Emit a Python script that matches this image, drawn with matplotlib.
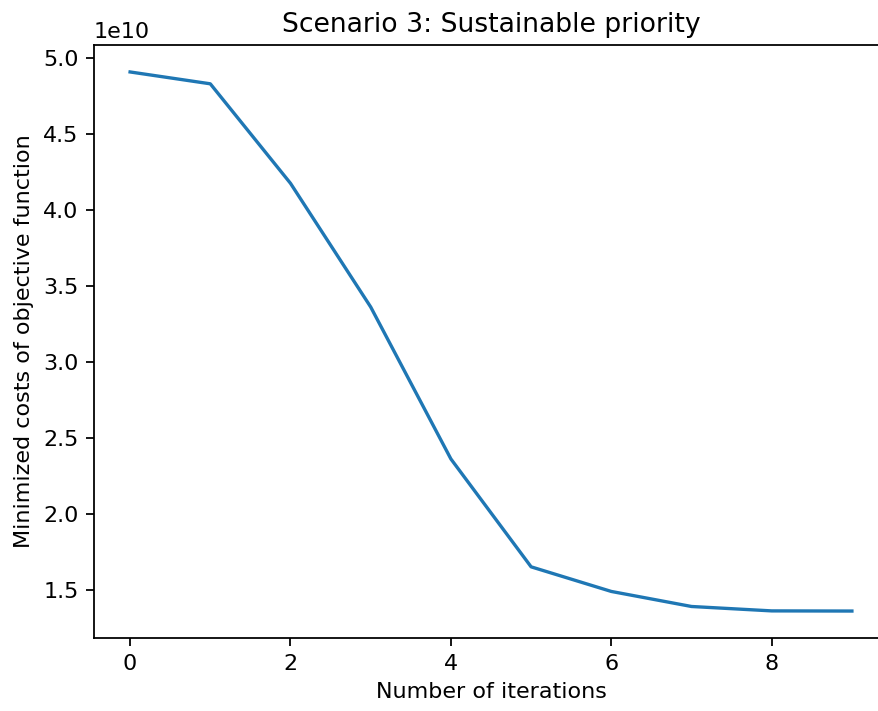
import matplotlib
matplotlib.use("Agg")
import matplotlib.pyplot as plt

# cost of the objective function per iteration
iterations = [0, 1, 2, 3, 4, 5, 6, 7, 8, 9]
costs = [4.908e10, 4.830e10, 4.175e10, 3.361e10, 2.361e10,
         1.651e10, 1.489e10, 1.390e10, 1.361e10, 1.360e10]

fig = plt.figure(figsize=(878 / 160, 711 / 160), dpi=160)
ax = fig.add_axes([94 / 878, 1 - 638 / 711, 794 / 878, 593 / 711])

ax.plot(iterations, costs)
ax.set_title("Scenario 3: Sustainable priority")
ax.set_xlabel("Number of iterations")
ax.set_ylabel("Minimized costs of objective function")

fig.savefig("out.png", dpi=160)
